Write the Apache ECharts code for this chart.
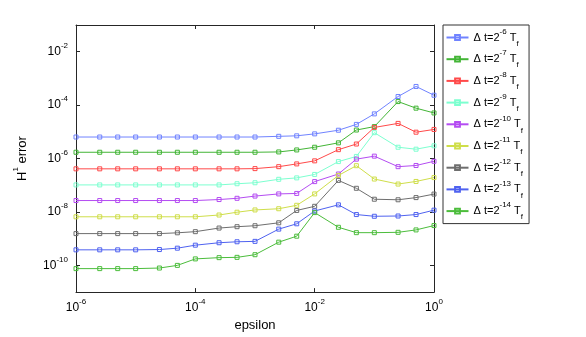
<!DOCTYPE html>
<html><head><meta charset="utf-8">
<script src="https://cdn.jsdelivr.net/npm/echarts@6/dist/echarts.min.js"></script>
<style>html,body{margin:0;padding:0;background:#fff}#c{width:586px;height:337px}</style>
</head><body><div id="c"></div>
<script>
// epsilon values (x)
const epsilon = [1e-6, 2.5e-6, 5e-6, 1e-5, 2.5e-5, 5e-5, 1e-4, 2.5e-4, 5e-4, 1e-3, 2.5e-3, 5e-3, 1e-2, 2.5e-2, 5e-2, 0.1, 0.25, 0.5, 1];
// H1 error per time step
const err_dt6  = [6.4e-6, 6.4e-6, 6.4e-6, 6.4e-6, 6.4e-6, 6.4e-6, 6.4e-6, 6.4e-6, 6.4e-6, 6.4e-6, 6.8e-6, 7.1e-6, 8.4e-6, 1.15e-5, 1.9e-5, 4.7e-5, 2.1e-4, 5.0e-4, 2.35e-4];
const err_dt7  = [1.72e-6, 1.72e-6, 1.72e-6, 1.72e-6, 1.72e-6, 1.72e-6, 1.72e-6, 1.72e-6, 1.72e-6, 1.72e-6, 1.77e-6, 2.1e-6, 2.65e-6, 3.87e-6, 1.17e-5, 1.57e-5, 1.36e-4, 7.7e-5, 5.1e-5];
const err_dt8  = [4.12e-7, 4.12e-7, 4.12e-7, 4.12e-7, 4.12e-7, 4.12e-7, 4.12e-7, 4.12e-7, 4.12e-7, 4.2e-7, 4.97e-7, 6.3e-7, 8.2e-7, 2.15e-6, 3.5e-6, 1.46e-5, 2.07e-5, 9.7e-6, 1.23e-5];
const err_dt9  = [1.03e-7, 1.03e-7, 1.03e-7, 1.03e-7, 1.03e-7, 1.03e-7, 1.03e-7, 1.03e-7, 1.14e-7, 1.24e-7, 1.67e-7, 1.89e-7, 2.54e-7, 7.7e-7, 1.2e-6, 9.3e-6, 2.65e-6, 2.24e-6, 3.0e-6];
const err_dt10 = [2.68e-8, 2.68e-8, 2.68e-8, 2.68e-8, 2.68e-8, 2.68e-8, 2.68e-8, 2.92e-8, 3.25e-8, 3.94e-8, 4.74e-8, 4.94e-8, 1.37e-7, 2.64e-7, 9.5e-7, 1.23e-6, 4.97e-7, 5.5e-7, 7.9e-7];
const err_dt11 = [6.6e-9, 6.6e-9, 6.6e-9, 6.6e-9, 6.6e-9, 6.6e-9, 6.6e-9, 7.7e-9, 9.8e-9, 1.19e-8, 1.32e-8, 1.78e-8, 4.74e-8, 2.33e-7, 5.4e-7, 1.71e-7, 1.11e-7, 1.39e-7, 1.94e-7];
const err_dt12 = [1.55e-9, 1.55e-9, 1.55e-9, 1.55e-9, 1.55e-9, 1.66e-9, 1.83e-9, 2.5e-9, 2.81e-9, 3.05e-9, 3.93e-9, 1.14e-8, 1.63e-8, 1.52e-7, 7.7e-8, 3.0e-8, 2.86e-8, 3.45e-8, 4.67e-8];
const err_dt13 = [3.82e-10, 3.82e-10, 3.82e-10, 3.82e-10, 3.92e-10, 4.41e-10, 5.71e-10, 7.05e-10, 7.66e-10, 7.93e-10, 2.28e-9, 3.61e-9, 1.09e-8, 1.85e-8, 8.0e-9, 6.9e-9, 7.06e-9, 8.0e-9, 1.17e-8];
const err_dt14 = [7.57e-11, 7.57e-11, 7.57e-11, 7.57e-11, 7.96e-11, 1.0e-10, 1.75e-10, 1.95e-10, 2.0e-10, 2.51e-10, 7.41e-10, 1.24e-9, 9.48e-9, 2.67e-9, 1.68e-9, 1.68e-9, 1.73e-9, 2.13e-9, 3.1e-9];
// legend exponents
const dtExponents = ['-6', '-7', '-8', '-9', '-10', '-11', '-12', '-13', '-14'];
// tick values
const xTicks = [1e-6, 1e-4, 1e-2, 1];
const yTicks = [1e-10, 1e-8, 1e-6, 1e-4, 1e-2];

const seriesData = [err_dt6, err_dt7, err_dt8, err_dt9, err_dt10, err_dt11, err_dt12, err_dt13, err_dt14];
const colors = ['#7083ff', '#43b536', '#ff4a4a', '#7dffd0', '#b44cf2', '#cfde4a', '#6e6e6e', '#4f62f0', '#4cbd3c'];
const FONT = '"Liberation Sans", Arial, Helvetica, sans-serif';

function powLabel(v) {
  const e = Math.round(Math.log10(v));
  return '{b|10}{s|' + e + '}';
}
const tickRich = {
  b: { fontSize: 12, fontFamily: FONT, color: '#000', lineHeight: 20, verticalAlign: 'middle' },
  s: { fontSize: 8, fontFamily: FONT, color: '#000', lineHeight: 8, verticalAlign: 'top' }
};

const chart = echarts.init(document.getElementById('c'), null, { renderer: 'canvas' });
const axisLineStyle = { color: '#262626', width: 1 };

const option = {
  animation: false,
  backgroundColor: '#fff',
  grid: { left: 76, right: 152, top: 25, bottom: 37.5, containLabel: false },
  xAxis: [
    {
      type: 'log', logBase: 10, min: 1e-6, max: 1,
      position: 'bottom',
      name: 'epsilon', nameLocation: 'middle', nameGap: 25,
      nameTextStyle: { fontSize: 13, fontFamily: FONT, color: '#000' },
      axisLine: { show: true, lineStyle: axisLineStyle },
      axisTick: { show: true, inside: true, length: 4, lineStyle: axisLineStyle, customValues: xTicks },
      axisLabel: { show: true, margin: 6, customValues: xTicks, formatter: powLabel, rich: tickRich },
      splitLine: { show: false }, minorTick: { show: false }
    },
    {
      type: 'log', logBase: 10, min: 1e-6, max: 1,
      position: 'top',
      axisLine: { show: true, lineStyle: axisLineStyle },
      axisTick: { show: true, inside: true, length: 4, lineStyle: axisLineStyle, customValues: xTicks },
      axisLabel: { show: false },
      splitLine: { show: false }
    }
  ],
  yAxis: [
    {
      type: 'log', logBase: 10, min: 1e-11, max: 1e-1,
      position: 'left',
      name: 'H{s|1} error', nameLocation: 'middle', nameGap: 35,
      nameTextStyle: {
        fontSize: 13, fontFamily: FONT, color: '#000', lineHeight: 20,
        rich: {
          s: { fontSize: 8, fontFamily: FONT, color: '#000', lineHeight: 8, verticalAlign: 'top' }
        }
      },
      axisLine: { show: true, lineStyle: axisLineStyle },
      axisTick: { show: true, inside: true, length: 4, lineStyle: axisLineStyle, customValues: yTicks },
      axisLabel: { show: true, margin: 8, customValues: yTicks, formatter: powLabel, rich: tickRich },
      splitLine: { show: false }
    },
    {
      type: 'log', logBase: 10, min: 1e-11, max: 1e-1,
      position: 'right',
      axisLine: { show: true, lineStyle: axisLineStyle },
      axisTick: { show: true, inside: true, length: 4, lineStyle: axisLineStyle, customValues: yTicks },
      axisLabel: { show: false },
      splitLine: { show: false }
    }
  ],
  legend: {
    orient: 'vertical', left: 443, top: 25,
    padding: [2.5, 6, 2.5, 2.5],
    itemGap: 1.7, itemWidth: 22, itemHeight: 6,
    borderColor: '#333', borderWidth: 1, backgroundColor: '#fff',
    selectedMode: false,
    data: dtExponents.map(e => 'Δ t=2^' + e + ' T_f'),
    formatter: function (name) {
      const e = name.replace('Δ t=2^', '').replace(' T_f', '');
      return '{a|Δ t=2}{s|' + e + '}{a| T}{u|f}';
    },
    textStyle: {
      fontSize: 11, fontFamily: FONT, color: '#000',
      rich: {
        a: { fontSize: 11, fontFamily: FONT, color: '#000', lineHeight: 20, verticalAlign: 'middle' },
        s: { fontSize: 8, fontFamily: FONT, color: '#000', lineHeight: 8, verticalAlign: 'top' },
        u: { fontSize: 8, fontFamily: FONT, color: '#000', lineHeight: 8, verticalAlign: 'bottom' }
      }
    }
  },
  series: seriesData.map((arr, i) => ({
    name: 'Δ t=2^' + dtExponents[i] + ' T_f',
    type: 'line',
    xAxisIndex: 0, yAxisIndex: 0,
    data: epsilon.map((x, j) => [x, arr[j]]),
    symbol: 'rect', symbolSize: 4, showSymbol: true,
    color: colors[i],
    lineStyle: { color: colors[i], width: 1 },
    itemStyle: { color: 'rgba(255,255,255,0)', borderColor: colors[i], borderWidth: 1 },
    emphasis: { disabled: true },
    silent: true
  }))
};
chart.setOption(option);
</script>
</body></html>
